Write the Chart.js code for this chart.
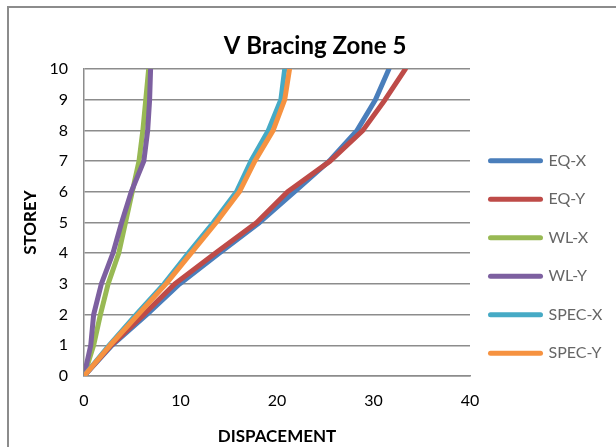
<!DOCTYPE html>
<html>
<head>
<meta charset="utf-8">
<script src="https://cdn.jsdelivr.net/npm/chart.js@4/dist/chart.umd.min.js"></script>
<style>
  html, body { margin: 0; padding: 0; background: #fff; overflow: hidden; }
  #wrap { position: relative; width: 616px; height: 447px; }
  #frame { position: absolute; left: 7px; top: 6px; width: 700px; height: 600px; border: 2px solid #8c8c8c; box-sizing: border-box; pointer-events: none; }
  canvas { position: absolute; left: 0; top: 0; }
</style>
</head>
<body>
<div id="wrap">
  <canvas id="c" width="616" height="447"></canvas>
  <div id="frame"></div>
</div>
<script>
// ---- data ----
const storeys = [0, 1, 2, 3, 4, 5, 6, 7, 8, 9, 10];
const seriesNames = ['EQ-X', 'EQ-Y', 'WL-X', 'WL-Y', 'SPEC-X', 'SPEC-Y'];
const eqX   = [0, 2.9, 6.5, 9.9, 14.0, 18.2, 21.8, 25.4, 28.3, 30.2, 31.6];
const eqY   = [0, 2.8, 6.2, 9.4, 13.6, 17.9, 21.1, 25.5, 28.9, 31.2, 33.3];
const wlX   = [0, 1.0, 1.7, 2.5, 3.6, 4.3, 5.0, 5.7, 6.1, 6.4, 6.7];
const wlY   = [0, 0.7, 1.0, 1.8, 3.0, 3.9, 4.9, 6.2, 6.6, 6.8, 6.9];
const specX = [0, 2.6, 5.4, 8.3, 10.8, 13.4, 15.8, 17.3, 19.1, 20.4, 20.8];
const specY = [0, 2.7, 5.6, 8.5, 11.1, 13.7, 16.1, 17.7, 19.6, 20.8, 21.3];
const xTicks = [0, 10, 20, 30, 40];
const yTicks = [0, 1, 2, 3, 4, 5, 6, 7, 8, 9, 10];
const chartTitle = 'V Bracing Zone 5';
const xTitle = 'DISPACEMENT';
const yTitle = 'STOREY';

const colors = ['#4A7EBB', '#BE4B48', '#98B954', '#7D60A0', '#46AAC5', '#F69240'];
const seriesValues = [eqX, eqY, wlX, wlY, specX, specY];

const FONT = 'Lato, "Liberation Sans", sans-serif';

const datasets = seriesNames.map((name, i) => ({
  label: name,
  data: seriesValues[i].map((v, k) => ({ x: v, y: storeys[k] })),
  borderColor: colors[i],
  backgroundColor: colors[i],
  borderWidth: 5,
  pointRadius: 0,
  pointHoverRadius: 0,
  showLine: true,
  tension: 0,
  borderCapStyle: 'round',
  borderJoinStyle: 'round',
  order: seriesNames.length - 1 - i
}));

const LEGEND_W = 140;
const legendWidthPlugin = {
  id: 'legendWidth',
  beforeLayout(chart) {
    const lg = chart.legend;
    if (lg && !lg.__patched) {
      const orig = lg.fit;
      lg.fit = function () { orig.call(this); this.width = LEGEND_W; };
      lg.__patched = true;
    }
  }
};

new Chart(document.getElementById('c'), {
  type: 'scatter',
  data: { datasets },
  plugins: [legendWidthPlugin],
  options: {
    responsive: false,
    animation: false,
    events: [],
    layout: { padding: { left: 20, right: 6, top: 8, bottom: 0 } },
    plugins: {
      tooltip: { enabled: false },
      title: {
        display: true,
        text: chartTitle,
        color: '#000',
        font: { family: FONT, size: 24, weight: 'bold', lineHeight: 1.2 },
        padding: { top: 23.6, bottom: 8.6 }
      },
      legend: {
        position: 'right',
        align: 'start',
        title: { display: true, text: ' ', font: { size: 12, lineHeight: 1.2 }, padding: { top: 55, bottom: 54.8 } },
        labels: {
          usePointStyle: true,
          pointStyleWidth: 50,
          padding: 20.5,
          color: '#000',
          font: { family: FONT, size: 16, lineHeight: 18 / 16 },
          generateLabels(chart) {
            return chart.data.datasets.map((ds, i) => ({
              text: [ds.label],
              fillStyle: ds.borderColor,
              strokeStyle: ds.borderColor,
              lineWidth: 5,
              lineCap: 'round',
              pointStyle: 'line',
              hidden: false,
              datasetIndex: i
            }));
          }
        }
      }
    },
    scales: {
      x: {
        type: 'linear',
        min: 0, max: 40,
        afterBuildTicks(scale) { scale.ticks = xTicks.map(v => ({ value: v })); },
        afterFit(scale) { scale.height = 71; },
        grid: { display: false, drawTicks: false },
        border: { display: true, color: '#8c8c8c', width: 1.5 },
        ticks: { padding: 15.4, color: '#000', font: { family: FONT, size: 16 } },
        title: {
          display: true, text: xTitle, color: '#000',
          font: { family: FONT, size: 17, weight: 'bold', lineHeight: 1.2 },
          padding: { top: 10, bottom: 0 }
        }
      },
      y: {
        type: 'linear',
        min: 0, max: 10,
        afterBuildTicks(scale) { scale.ticks = yTicks.map(v => ({ value: v })); },
        afterFit(scale) { scale.width = 64; },
        grid: { color: '#8c8c8c', lineWidth: 1.5, drawTicks: false },
        border: { display: true, color: '#8c8c8c', width: 1.5 },
        ticks: { padding: 16, color: '#000', font: { family: FONT, size: 16 } },
        title: {
          display: true, text: yTitle, color: '#000',
          font: { family: FONT, size: 17, weight: 'bold', lineHeight: 1.2 },
          padding: { top: 0, bottom: 4 }
        }
      }
    }
  }
});
</script>
</body>
</html>
